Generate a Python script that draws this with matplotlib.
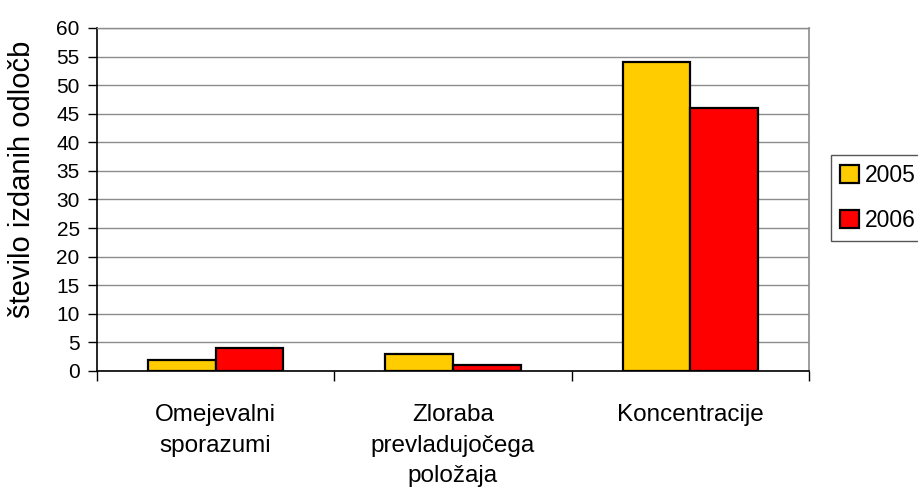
import matplotlib
matplotlib.use("Agg")
import matplotlib.pyplot as plt
import numpy as np

categories = ["Omejevalni\nsporazumi", "Zloraba\nprevladujočega\npoložaja", "Koncentracije"]
series_names = ["2005", "2006"]
values_2005 = [2, 3, 54]
values_2006 = [4, 1, 46]
y_ticks = [0, 5, 10, 15, 20, 25, 30, 35, 40, 45, 50, 55, 60]
y_label = "število izdanih odločb"

plt.rcParams['font.family'] = ['Liberation Sans', 'DejaVu Sans']

fig = plt.figure(figsize=(9.18, 5.0), dpi=100)
ax = fig.add_axes([97/918, 1-371/500, (809-97)/918, (371-28)/500])

x = np.arange(len(categories))
w = 1/3.5
ax.bar(x - w/2, values_2005, width=w, color="#FFCC00", edgecolor="black", linewidth=1.6, label=series_names[0], zorder=3)
ax.bar(x + w/2, values_2006, width=w, color="#FF0000", edgecolor="black", linewidth=1.6, label=series_names[1], zorder=3)

ax.set_xlim(-0.5, len(categories) - 0.5)
ax.set_ylim(0, 60)
ax.set_yticks(y_ticks)
ax.yaxis.grid(True, color="#8c8c8c", linewidth=1.0, zorder=0)
ax.set_axisbelow(True)
ax.tick_params(axis='y', direction='out', length=6.5, width=1.0, color='black', labelsize=15, pad=6)

# category boundaries as major ticks, labels as minor ticks
ax.set_xticks(np.arange(-0.5, len(categories), 1.0))
ax.set_xticklabels([])
ax.tick_params(axis='x', which='major', direction='out', length=7, width=1.0, color='black')
ax.set_xticks(x, minor=True)
ax.set_xticklabels(categories, minor=True, fontsize=17.5, linespacing=1.5)
ax.tick_params(axis='x', which='minor', length=0, pad=24)

for spine in ["left", "bottom"]:
    ax.spines[spine].set_color("black")
    ax.spines[spine].set_linewidth(1.2)
ax.spines["right"].set_color("#8c8c8c")
ax.spines["right"].set_linewidth(1.2)
ax.spines["top"].set_color("#8c8c8c")
ax.spines["top"].set_linewidth(1.0)

ax.set_ylabel(y_label, fontsize=21)
ax.yaxis.set_label_coords(-0.086, 0.56)

leg = fig.legend(loc='upper left', bbox_to_anchor=(831/918, 1-155/500), bbox_transform=fig.transFigure,
                 borderaxespad=0, fontsize=16.5, handlelength=0.8, handleheight=0.8,
                 handletextpad=0.3, labelspacing=0.95, borderpad=0.4, fancybox=False,
                 edgecolor="#555555", framealpha=1)
leg.get_frame().set_linewidth(1.0)

fig.savefig("out.png", dpi=100)
